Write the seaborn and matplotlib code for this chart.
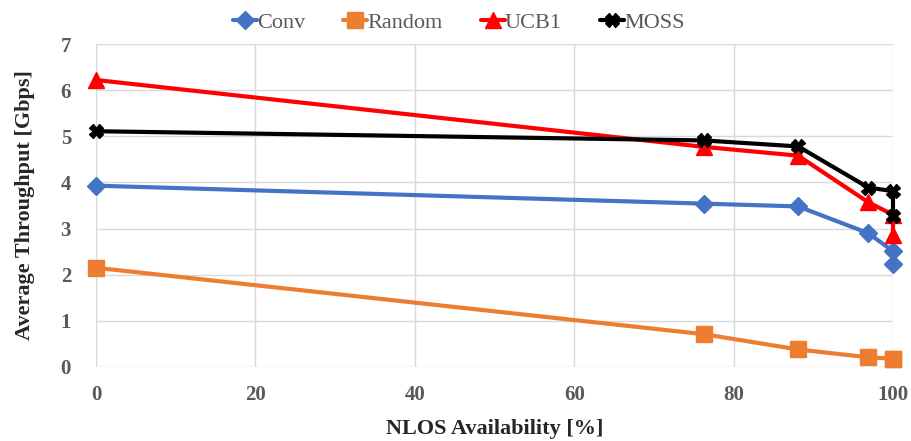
import numpy as np
import pandas as pd
import matplotlib
matplotlib.use("Agg")
import matplotlib.pyplot as plt
import seaborn as sns

# NLOS availability [%] for each measured point (several runs at 100 %)
nlos = [0, 76.3, 88.1, 96.9, 100, 100]

conv = [3.93, 3.54, 3.48, 2.90, 2.51, 2.23]
random_sel = [2.15, 0.71, 0.38, 0.21, 0.18, 0.18]
ucb1 = [6.22, 4.77, 4.58, 3.57, 3.30, 2.87]
moss = [5.11, 4.91, 4.78, 3.89, 3.81, 3.27]

series_names = ["Conv", "Random", "UCB1", "MOSS"]
series_values = [conv, random_sel, ucb1, moss]
colors = ["#4472C4", "#ED7D31", "#FF0000", "#000000"]
markers = ["D", "s", "^", "X"]
msizes = [9.5, 11, 11, 10]

x_ticks = [0, 20, 40, 60, 80, 100]
y_ticks = [0, 1, 2, 3, 4, 5, 6, 7]


def main():
    sns.set_style("white")
    plt.rcParams["font.family"] = ["Liberation Serif", "DejaVu Serif"]

    fig = plt.figure(figsize=(9.11, 4.41), dpi=100)
    ax = fig.add_axes([96 / 911, 1 - 367 / 441, (893 - 96) / 911, (367 - 44) / 441])

    for name, vals, c, m, ms in zip(series_names, series_values, colors, markers, msizes):
        df = pd.DataFrame({"x": nlos, "y": vals})
        sns.lineplot(
            data=df, x="x", y="y", ax=ax,
            estimator=None, sort=False,
            color=c, linewidth=3,
            marker=m, markersize=ms, markeredgecolor=c, markeredgewidth=1,
            label=name,
        )

    ax.set_xlim(0, 100)
    ax.set_ylim(0, 7)
    ax.set_xticks(x_ticks)
    ax.set_yticks(y_ticks)
    ax.grid(True, color="#D9D9D9", linewidth=1)
    ax.set_axisbelow(True)
    for s in ax.spines.values():
        s.set_visible(False)
    ax.tick_params(axis="both", length=0, labelsize=15, labelcolor="#595959")
    ax.tick_params(axis="y", pad=18)
    ax.tick_params(axis="x", pad=13)
    for lbl in ax.get_xticklabels() + ax.get_yticklabels():
        lbl.set_fontweight("bold")
    for line in ax.get_lines():
        line.set_clip_on(False)

    ax.set_xlabel("NLOS Availability [%]", fontsize=16, fontweight="bold", labelpad=10)
    ax.set_ylabel("Average Throughput [Gbps]", fontsize=16, fontweight="bold", labelpad=18)

    leg = ax.legend(
        loc="lower center", bbox_to_anchor=(0.455, 1.0), ncol=4, frameon=False,
        fontsize=16, handlelength=1.1, handletextpad=0.0, columnspacing=1.7,
        borderaxespad=0.1,
    )
    for t in leg.get_texts():
        t.set_color("#595959")

    fig.savefig("out.png", dpi=100)


if __name__ == "__main__":
    main()
